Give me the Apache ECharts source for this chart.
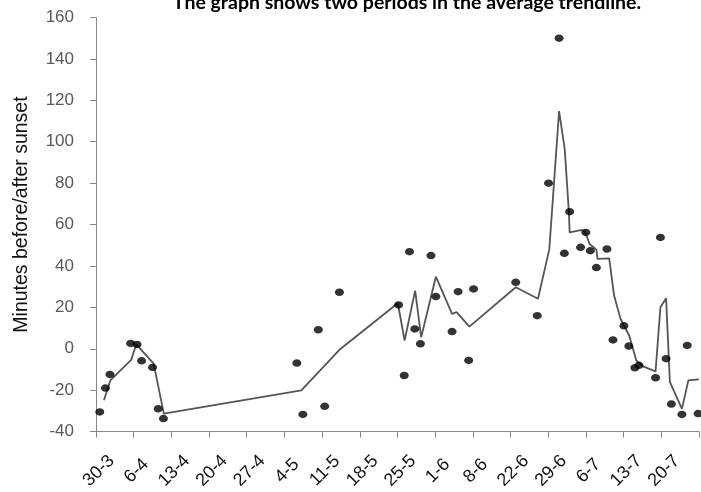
<!DOCTYPE html>
<html>
<head>
<meta charset="utf-8">
<script src="https://cdn.jsdelivr.net/npm/echarts@6/dist/echarts.min.js"></script>
<style>
  html, body { margin: 0; padding: 0; background: #ffffff; }
  #chart { width: 701px; height: 492px; }
</style>
</head>
<body>
<div id="chart"></div>
<script>
// Tick labels of the x axis (one per tick, evenly spaced)
const xTickLabels = ['30-3', '6-4', '13-4', '20-4', '27-4', '4-5', '11-5', '18-5', '25-5', '1-6', '8-6', '22-6', '29-6', '6-7', '13-7', '20-7', ''];

// Observations: position along the tick scale, minutes before/after sunset
const obsPos = [0.10, 0.25, 0.37, 0.92, 1.09, 1.21, 1.50, 1.65, 1.79, 5.33, 5.49, 5.90, 6.07, 6.46, 8.03, 8.18, 8.32, 8.46, 8.61, 8.89, 9.02, 9.45, 9.61, 9.89, 10.02, 11.14, 11.71, 12.01, 12.29, 12.43, 12.57, 12.86, 13.00, 13.12, 13.28, 13.56, 13.72, 14.01, 14.14, 14.30, 14.41, 14.85, 14.98, 15.13, 15.27, 15.55, 15.69, 15.98];
const obsMinutes = [-30.5, -19, -12.4, 2.6, 2.1, -5.8, -9, -29, -33.7, -6.9, -31.7, 9.2, -27.8, 27.3, 21.2, -12.9, 46.9, 9.6, 2.4, 45, 25.2, 8.3, 27.6, -5.6, 28.9, 32.1, 16, 80, 150, 46.1, 66.2, 49, 56.2, 47.4, 39.2, 48.2, 4.3, 11.1, 1.3, -9.2, -8, -14, 53.8, -4.8, -26.7, -31.7, 1.6, -31.3];

// Average trendline
const trendPos = [0.21, 0.38, 0.94, 1.00, 1.07, 1.53, 1.80, 5.45, 6.46, 8.01, 8.19, 8.47, 8.63, 9.02, 9.45, 9.57, 9.91, 11.14, 11.73, 12.03, 12.29, 12.44, 12.55, 12.57, 12.87, 12.97, 13.10, 13.28, 13.31, 13.62, 13.75, 13.92, 14.15, 14.34, 14.50, 14.85, 14.98, 15.13, 15.23, 15.55, 15.72, 16.00];
const trendMinutes = [-24.9, -15.3, -5.2, -1.6, 2.1, -7.2, -31.3, -20.1, -0.5, 22, 4, 28.1, 5.6, 34.8, 16.9, 17.7, 10.7, 29.7, 24.2, 48, 114.8, 96.4, 66, 56.2, 57.3, 57, 50.6, 47.9, 43.4, 43.7, 25.7, 14.5, 6.4, -5.6, -8.4, -10.9, 20.1, 24.4, -16, -29, -15.3, -14.8];

const titleText = 'The graph shows two periods in the average trendline.';
const yAxisTitle = 'Minutes before/after sunset';

const obsData = obsPos.map((p, i) => [p, obsMinutes[i]]);
const trendData = trendPos.map((p, i) => [p, trendMinutes[i]]);

const chart = echarts.init(document.getElementById('chart'), null, { renderer: 'canvas' });
chart.setOption({
  animation: false,
  backgroundColor: '#ffffff',
  title: {
    text: titleText,
    left: 407,
    textAlign: 'center',
    top: -7,
    padding: 0,
    textStyle: { fontFamily: 'Lato', fontWeight: 'bold', fontSize: 19.5, color: '#000000' }
  },
  grid: { left: 96, right: 1, top: 17.5, bottom: 59.5, containLabel: false },
  xAxis: {
    type: 'value',
    min: 0,
    max: 16,
    interval: 1,
    splitLine: { show: false },
    axisLine: { show: true, onZero: false, lineStyle: { color: '#888888', width: 1 } },
    axisTick: { show: true, inside: false, length: 6, lineStyle: { color: '#888888' } },
    axisLabel: {
      rotate: 45,
      margin: 42,
      align: 'center',
      verticalAlign: 'middle',
      padding: [8, 0, 0, 8],
      fontFamily: 'Liberation Sans',
      fontSize: 18,
      color: '#111111',
      showMinLabel: true,
      showMaxLabel: true,
      formatter: function (v) { return xTickLabels[Math.round(v)] || ''; }
    }
  },
  yAxis: {
    type: 'value',
    min: -40,
    max: 160,
    interval: 20,
    splitLine: { show: false },
    axisLine: { show: true, lineStyle: { color: '#888888', width: 1 } },
    axisTick: { show: true, inside: false, length: 6, lineStyle: { color: '#888888' } },
    axisLabel: { margin: 22, fontFamily: 'Liberation Sans', fontSize: 17, color: '#595959' },
    name: yAxisTitle,
    nameLocation: 'middle',
    nameGap: 64,
    nameTextStyle: { fontFamily: 'Liberation Sans', fontSize: 19.5, color: '#111111', padding: [0, 0, 0, 20] }
  },
  series: [
    {
      type: 'line',
      data: trendData,
      showSymbol: false,
      symbol: 'none',
      lineStyle: { color: '#555555', width: 1.8 },
      z: 2
    },
    {
      type: 'scatter',
      data: obsData,
      symbol: 'circle',
      symbolSize: [9, 7.5],
      itemStyle: { color: '#000000' },
      z: 3
    }
  ]
});
</script>
</body>
</html>
